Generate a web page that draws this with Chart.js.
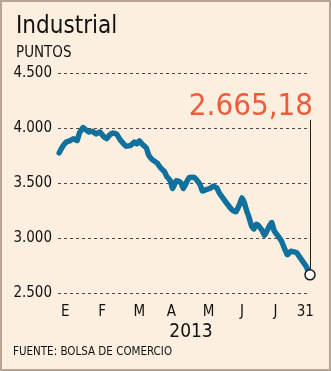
<!DOCTYPE html>
<html>
<head>
<meta charset="utf-8">
<script src="https://cdn.jsdelivr.net/npm/chart.js@4"></script>
<style>
  html, body { margin: 0; padding: 0; background: #ffffff; }
  #box {
    position: relative;
    width: 331px; height: 371px;
    box-sizing: border-box;
    border: 2px solid #b5a596;
    background: #fcefdf;
  }
  #chart { position: absolute; top: -2px; left: -2px; }
</style>
</head>
<body>
<div id="box"><canvas id="chart" width="331" height="371"></canvas></div>
<script>
// IPSA Industrial, 2013 (day of year -> points)
var days = [2, 5, 8, 11, 14, 17, 19, 22, 24, 27, 30, 33, 36, 39, 42, 44, 47, 50, 53, 56,
  58, 62, 65, 67, 69, 72, 75, 77, 80, 84, 87, 90, 92, 95, 97, 100, 102, 104, 106, 109,
  111, 115, 117, 120, 122, 125, 128, 131, 134, 136, 139, 142, 145, 148, 150, 153, 155, 157, 159, 161,
  163, 165, 167, 169, 172, 174, 176, 178, 180, 182, 184, 188, 193, 196, 201, 203, 206, 209, 212];
var values = [3775, 3834, 3873, 3885, 3903, 3885, 3955, 4006, 3985, 3964, 3970, 3945, 3964, 3925, 3903, 3934, 3955, 3945, 3894, 3855,
  3834, 3843, 3873, 3855, 3885, 3848, 3818, 3752, 3712, 3682, 3636, 3606, 3561, 3521, 3449, 3521, 3515, 3500, 3449, 3515,
  3552, 3552, 3530, 3485, 3425, 3440, 3449, 3470, 3455, 3410, 3365, 3320, 3276, 3246, 3239, 3305, 3365, 3320, 3246, 3186,
  3111, 3081, 3126, 3111, 3066, 3022, 3066, 3111, 3141, 3066, 3036, 2975, 2848, 2880, 2864, 2833, 2785, 2738, 2665.18];

var tickDays = [7, 38, 69, 96, 127, 155, 183, 208];
var tickLabels = ['E', 'F', 'M', 'A', 'M', 'J', 'J', '31'];
var yMin = 2500, yMax = 4500, yStep = 500;

var FONT = "'DejaVu Sans Condensed', 'DejaVu Sans', sans-serif";
var BLUE = '#12709d';
var RED = '#ef5a3b';

function fmtThousands(v) {
  return String(v).replace(/\B(?=(\d{3})+(?!\d))/g, '.');
}
function fmtValue(v) {
  var parts = v.toFixed(2).split('.');
  return fmtThousands(parts[0]) + ',' + parts[1];
}

var points = days.map(function (d, i) { return { x: d, y: values[i] }; });
var last = points.length - 1;

// header, closing value, pointer line, year and source
var textPlugin = {
  id: 'texts',
  beforeDatasetsDraw: function (chart) {
    var ctx = chart.ctx;
    var xs = chart.scales.x, ys = chart.scales.y;
    var px = xs.getPixelForValue(days[last]);
    var py = ys.getPixelForValue(values[last]);
    ctx.save();
    ctx.strokeStyle = '#222';
    ctx.lineWidth = 1;
    ctx.beginPath();
    ctx.moveTo(Math.round(px) + 0.5, 120);
    ctx.lineTo(Math.round(px) + 0.5, py);
    ctx.stroke();
    ctx.restore();
  },
  afterDraw: function (chart) {
    var ctx = chart.ctx;
    ctx.save();
    ctx.textBaseline = 'alphabetic';
    ctx.fillStyle = '#111';
    ctx.textAlign = 'left';
    ctx.font = '24px ' + FONT;
    ctx.fillText('Industrial', 16, 33);
    ctx.font = '15px ' + FONT;
    ctx.fillText('PUNTOS', 16, 57);
    ctx.font = '11.5px ' + FONT;
    ctx.fillText('FUENTE: BOLSA DE COMERCIO', 13, 355);
    ctx.textAlign = 'center';
    ctx.font = '19px ' + FONT;
    ctx.fillText('2013', 191, 337);
    ctx.fillStyle = RED;
    ctx.textAlign = 'right';
    ctx.font = '31px ' + FONT;
    ctx.fillText(fmtValue(values[last]), 313, 115);
    ctx.restore();
  }
};

new Chart(document.getElementById('chart'), {
  type: 'line',
  data: {
    datasets: [{
      data: points,
      borderColor: BLUE,
      borderWidth: 5.5,
      borderJoinStyle: 'round',
      borderCapStyle: 'round',
      tension: 0.1,
      fill: false,
      clip: false,
      pointRadius: function (c) { return c.dataIndex === last ? 5 : 0; },
      pointHoverRadius: 0,
      pointBackgroundColor: '#ffffff',
      pointBorderColor: '#1a1a1a',
      pointBorderWidth: 1.5
    }]
  },
  options: {
    responsive: false,
    animation: false,
    events: [],
    layout: { padding: { top: 73, right: 21, bottom: 24, left: 0 } },
    plugins: { legend: { display: false }, tooltip: { enabled: false } },
    scales: {
      x: {
        type: 'linear',
        min: 1,
        max: 212,
        grid: { display: false },
        border: { display: false },
        afterBuildTicks: function (scale) {
          scale.ticks = tickDays.map(function (d) { return { value: d }; });
        },
        afterFit: function (scale) { scale.height = 54; },
        ticks: {
          autoSkip: false,
          maxRotation: 0,
          padding: 2,
          color: '#111',
          font: { family: FONT, size: 15 },
          callback: function (v) {
            var i = tickDays.indexOf(v);
            return i >= 0 ? tickLabels[i] : '';
          }
        }
      },
      y: {
        min: yMin,
        max: yMax,
        afterFit: function (scale) { scale.width = 58; },
        grid: { color: '#4a4a4a', lineWidth: 1, drawTicks: false },
        border: { display: false, dash: [3, 3] },
        ticks: {
          stepSize: yStep,
          padding: 6,
          color: '#111',
          font: { family: FONT, size: 15 },
          callback: function (v) { return fmtThousands(v); }
        }
      }
    }
  },
  plugins: [textPlugin]
});
</script>
</body>
</html>
